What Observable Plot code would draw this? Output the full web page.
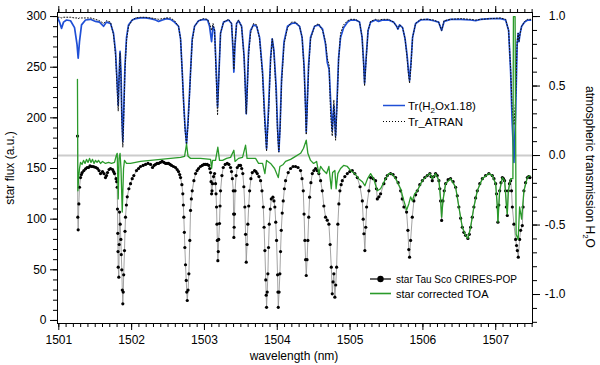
<!DOCTYPE html>
<html><head><meta charset="utf-8">
<script src="https://cdn.jsdelivr.net/npm/d3@7"></script>
<script src="https://cdn.jsdelivr.net/npm/@observablehq/plot@0.6"></script>
<style>body{margin:0;background:#fff;font-family:"Liberation Sans",Arial,sans-serif}</style>
</head><body><div id="chart"></div>
<script>
// ---- star Tau Sco CRIRES-POP (left axis, a.u.) ----
const starWl = [
1501.257,1501.261,1501.266,1501.275,1501.284,1501.298,1501.310,1501.321,1501.344,1501.367,
1501.388,1501.408,1501.428,1501.449,1501.470,1501.490,1501.511,1501.532,1501.552,1501.573,
1501.600,1501.620,1501.641,1501.655,1501.669,1501.690,1501.710,1501.738,1501.752,1501.765,
1501.786,1501.795,1501.802,1501.806,1501.810,1501.813,1501.816,1501.824,1501.829,1501.834,
1501.843,1501.852,1501.858,1501.865,1501.872,1501.879,1501.885,1501.891,1501.902,1501.909,
1501.916,1501.928,1501.940,1501.962,1501.985,1502.008,1502.030,1502.067,1502.095,1502.122,
1502.157,1502.191,1502.225,1502.260,1502.287,1502.308,1502.328,1502.350,1502.370,1502.395,
1502.420,1502.443,1502.466,1502.486,1502.507,1502.528,1502.548,1502.575,1502.603,1502.625,
1502.644,1502.660,1502.672,1502.690,1502.703,1502.710,1502.717,1502.724,1502.731,1502.740,
1502.750,1502.757,1502.764,1502.775,1502.786,1502.799,1502.809,1502.820,1502.832,1502.855,
1502.878,1502.899,1502.919,1502.945,1502.970,1502.993,1503.015,1503.038,1503.060,1503.072,
1503.084,1503.091,1503.098,1503.104,1503.111,1503.125,1503.139,1503.152,1503.159,1503.166,
1503.172,1503.177,1503.184,1503.190,1503.196,1503.207,1503.214,1503.221,1503.240,1503.258,
1503.285,1503.313,1503.336,1503.359,1503.372,1503.383,1503.396,1503.400,1503.404,1503.408,
1503.413,1503.420,1503.435,1503.451,1503.474,1503.496,1503.512,1503.527,1503.541,1503.555,
1503.565,1503.574,1503.585,1503.596,1503.608,1503.620,1503.638,1503.657,1503.688,1503.707,
1503.725,1503.748,1503.771,1503.790,1503.808,1503.819,1503.830,1503.842,1503.848,1503.853,
1503.862,1503.871,1503.880,1503.890,1503.904,1503.918,1503.940,1503.955,1503.967,1503.979,
1503.990,1504.004,1504.009,1504.014,1504.025,1504.036,1504.045,1504.055,1504.068,1504.082,
1504.098,1504.114,1504.150,1504.183,1504.217,1504.251,1504.285,1504.320,1504.340,1504.357,
1504.368,1504.379,1504.389,1504.398,1504.409,1504.420,1504.432,1504.444,1504.462,1504.481,
1504.503,1504.526,1504.548,1504.571,1504.595,1504.618,1504.640,1504.663,1504.686,1504.709,
1504.726,1504.742,1504.755,1504.766,1504.777,1504.791,1504.803,1504.815,1504.832,1504.846,
1504.860,1504.877,1504.893,1504.928,1504.962,1504.996,1505.030,1505.065,1505.099,1505.137,
1505.168,1505.180,1505.190,1505.203,1505.215,1505.227,1505.258,1505.282,1505.316,1505.350,
1505.362,1505.374,1505.396,1505.419,1505.464,1505.488,1505.511,1505.556,1505.590,1505.625,
1505.660,1505.694,1505.716,1505.739,1505.776,1505.794,1505.806,1505.817,1505.831,1505.854,
1505.876,1505.900,1505.923,1505.957,1505.992,1506.026,1506.060,1506.096,1506.112,1506.129,
1506.150,1506.174,1506.197,1506.220,1506.232,1506.243,1506.257,1506.275,1506.293,1506.312,
1506.346,1506.380,1506.415,1506.449,1506.472,1506.494,1506.518,1506.541,1506.563,1506.586,
1506.618,1506.637,1506.655,1506.678,1506.700,1506.724,1506.747,1506.781,1506.816,1506.861,
1506.906,1506.953,1506.976,1506.999,1507.011,1507.022,1507.030,1507.042,1507.054,1507.072,
1507.091,1507.106,1507.122,1507.135,1507.146,1507.159,1507.173,1507.189,1507.205,1507.217,
1507.228,1507.250,1507.273,1507.286,1507.297,1507.310,1507.328,1507.342,1507.365,1507.376,
1507.387,1507.410,1507.434,1507.452,1507.470];
const starFlux = [
182,102,89.5,115,131.5,141,144,146,148,149.7,
151,151,152.5,152,152,151.5,151,150,148,145,
147,145,141,143,146,149,150,149,147,145,
140,137,131.5,110,86,68,52.6,42.7,75,107,
95,80,65,50,30,16.4,28,45,69,88,
102,114,122,130,135,140,143,148,150,152,
153,154,155,154,151,153,154,155,155,156,
157,156,155,155,155,154,153,152,151,149,
147,144,141,134,125,114,102,87,72,55,
39.5,28,19.7,30,46,79,108.6,120,128,138,
145,148,150,152,153,154,154,154,153,150,
146,137,125,128,135,142,145,135,125,112,
95,79,59,68,80,95.7,113,128,143,151,
154,155,154,151,147,140,128,105,82,92,
105,128,143,151,153,153,150,145,132,112,
85,57.5,75,95,113,128,140,146,148,147,
145,142,138,128,112,92,69,40,25,13,
28,46,72,95,110,120,121.7,118,112,97,
79,45,28,13,28,46,68,89,106,118,
130,138,146,150,152,152,151,148,140,128,
105,79,60,44.4,60,79,102,121.7,136,145,
148,150,148,145,138,128,113,102,99,95,
75,52.6,26.3,38,46,23,35,52.6,95,115,
128,134,138,142,145,147,148,145,141,132,
118,100,85.6,69,92,112,128,141,140,138,
130,120,122,125,135,140,143,145,144,141,
136,128,120,112,107,89,70,62.5,79,102,
118,124,128,134,138,141,143,145,142,138,
142,145,143,138,130,118,98.7,118,128,135,
139,140,137,131.5,123,112,101,92,87,84,
81,85,92,102,112,121,128,135,140,143,
145,143,140,135,125,112,97,114,128,136,
141,140,138,128,112,103.6,128,135,138,128,
112,95,80,74,69,62.5,80,89,93.7,112,
128,136,141,142,141];

// ---- star corrected TOA (left axis, a.u.) ----
const toaWl = [
1501.256,1501.262,1501.271,1501.284,1501.298,1501.319,1501.339,1501.360,1501.380,1501.401,
1501.422,1501.442,1501.463,1501.484,1501.504,1501.525,1501.545,1501.573,1501.600,1501.641,
1501.683,1501.724,1501.765,1501.786,1501.802,1501.816,1501.827,1501.841,1501.854,1501.871,
1501.889,1501.902,1501.930,1501.985,1502.122,1502.260,1502.397,1502.534,1502.672,1502.727,
1502.754,1502.775,1502.809,1502.946,1503.084,1503.098,1503.111,1503.152,1503.184,1503.207,
1503.249,1503.304,1503.359,1503.404,1503.420,1503.468,1503.523,1503.565,1503.585,1503.633,
1503.702,1503.743,1503.798,1503.830,1503.853,1503.908,1503.963,1504.014,1504.036,1504.082,
1504.114,1504.183,1504.251,1504.320,1504.361,1504.398,1504.420,1504.457,1504.499,1504.540,
1504.571,1504.595,1504.636,1504.677,1504.709,1504.742,1504.760,1504.791,1504.808,1504.832,
1504.869,1504.911,1504.962,1505.007,1505.076,1505.117,1505.168,1505.203,1505.240,1505.282,
1505.323,1505.374,1505.419,1505.474,1505.529,1505.570,1505.625,1505.694,1505.739,1505.776,
1505.806,1505.831,1505.854,1505.886,1505.923,1505.992,1506.060,1506.096,1506.129,1506.174,
1506.220,1506.243,1506.257,1506.275,1506.312,1506.380,1506.449,1506.494,1506.541,1506.586,
1506.618,1506.655,1506.700,1506.747,1506.816,1506.906,1506.953,1506.999,1507.022,1507.030,
1507.054,1507.091,1507.122,1507.146,1507.159,1507.173,1507.205,1507.236,1507.243,1507.266,
1507.280,1507.308,1507.328,1507.356,1507.387,1507.434,1507.470];
const toaFlux = [
238,128,140,150,156,154,158,155,159,156,
160,156,159,155,158,156,158,155,157,155,
156,155,156,162,165,120,160,165,150,107,
150,158,155,155,157,158,159,160,161,162,
174,162,160,160,159,150,158,158,171,158,
158,160,161,168,157,160,161,173,160,160,
160,155,155,145,158,155,150,141,152,154,
157,159,162,165,170,178,165,158,155,157,
145,152,148,145,152,130,146,148,130,145,
150,153,152,148,144,140,137,133,140,145,
140,128,130,138,145,145,140,130,118,109,
115,122,118,125,128,138,143,145,140,145,
138,120,102,118,135,140,131.5,112,92,84,
81,92,112,128,140,145,143,135,112,97,
128,141,138,115,105,128,140,140,300,300,
85,80,112,100,128,141,143];

// ---- atmospheric transmission (right axis) ----
const trWl = [
1500.989,1501.010,1501.037,1501.065,1501.106,1501.161,1501.216,1501.250,1501.266,1501.284,
1501.312,1501.367,1501.435,1501.504,1501.559,1501.614,1501.655,1501.710,1501.751,1501.779,
1501.799,1501.816,1501.827,1501.841,1501.854,1501.865,1501.879,1501.893,1501.909,1501.930,
1501.957,1502.008,1502.054,1502.122,1502.191,1502.260,1502.328,1502.370,1502.424,1502.479,
1502.534,1502.589,1502.644,1502.672,1502.695,1502.713,1502.734,1502.754,1502.775,1502.795,
1502.809,1502.832,1502.864,1502.919,1502.988,1503.043,1503.070,1503.098,1503.118,1503.139,
1503.159,1503.180,1503.201,1503.221,1503.262,1503.331,1503.372,1503.393,1503.404,1503.418,
1503.441,1503.468,1503.510,1503.544,1503.565,1503.574,1503.585,1503.606,1503.633,1503.674,
1503.716,1503.757,1503.798,1503.826,1503.853,1503.881,1503.908,1503.931,1503.953,1503.984,
1504.004,1504.022,1504.038,1504.059,1504.093,1504.141,1504.196,1504.251,1504.306,1504.341,
1504.368,1504.389,1504.398,1504.409,1504.430,1504.457,1504.512,1504.567,1504.622,1504.663,
1504.687,1504.712,1504.732,1504.755,1504.777,1504.801,1504.821,1504.842,1504.869,1504.911,
1504.966,1505.007,1505.076,1505.130,1505.165,1505.185,1505.199,1505.220,1505.247,1505.282,
1505.350,1505.391,1505.446,1505.529,1505.597,1505.639,1505.657,1505.680,1505.721,1505.755,
1505.783,1505.803,1505.817,1505.838,1505.858,1505.900,1505.968,1506.065,1506.147,1506.216,
1506.257,1506.291,1506.380,1506.518,1506.655,1506.724,1506.793,1506.930,1507.067,1507.136,
1507.177,1507.205,1507.225,1507.250,1507.273,1507.294,1507.308,1507.319,1507.335,1507.356,
1507.397,1507.438,1507.479];
const trH2O = [
.985,.96,.915,.96,.975,.97,.92,.80,.70,.82,
.94,.975,.98,.965,.96,.93,.96,.95,.88,.75,
.55,.36,.55,.75,.60,.30,.10,.35,.65,.85,
.94,.975,.985,.99,.99,.985,.975,.965,.975,.985,
.98,.96,.93,.84,.60,.40,.20,.085,.25,.45,
.60,.84,.93,.97,.98,.975,.93,.82,.93,.90,
.65,.35,.62,.88,.96,.975,.95,.75,.60,.78,
.95,.97,.93,.72,.45,.30,.45,.75,.90,.94,
.93,.85,.60,.30,.05,.35,.70,.84,.76,.50,
.20,.03,.20,.55,.82,.93,.95,.955,.93,.85,
.65,.35,.17,.33,.65,.85,.93,.94,.91,.80,
.67,.62,.40,.18,.36,.14,.40,.70,.85,.92,
.96,.975,.975,.96,.85,.68,.52,.70,.90,.96,
.975,.965,.975,.975,.96,.93,.91,.94,.92,.84,
.72,.60,.54,.68,.85,.95,.975,.98,.97,.96,
.90,.965,.98,.98,.975,.97,.98,.985,.985,.975,
.90,.60,.25,-.05,.30,.80,.88,.82,.88,.93,
.96,.975,.975];
const trAtran = [
.995,.995,.99,.995,.995,.995,.99,.99,.985,.99,
.99,.99,.99,.98,.97,.95,.97,.96,.87,.72,
.50,.32,.55,.74,.55,.25,.06,.30,.62,.83,
.93,.975,.99,.995,.995,.99,.985,.98,.985,.99,
.99,.97,.93,.84,.60,.38,.18,.08,.22,.43,
.60,.82,.93,.97,.985,.98,.95,.90,.95,.90,
.60,.29,.60,.88,.96,.98,.95,.78,.62,.80,
.95,.975,.93,.70,.40,.30,.42,.72,.88,.95,
.94,.84,.58,.25,.03,.30,.68,.84,.75,.45,
.15,.024,.18,.52,.80,.92,.96,.96,.93,.85,
.62,.30,.15,.30,.62,.84,.93,.95,.90,.82,
.70,.65,.30,.14,.40,.11,.35,.68,.88,.94,
.97,.98,.98,.96,.85,.65,.50,.68,.90,.965,
.98,.975,.98,.98,.96,.93,.91,.94,.92,.84,
.70,.58,.52,.66,.85,.95,.98,.98,.975,.96,
.90,.97,.98,.985,.98,.975,.98,.985,.99,.98,
.90,.62,.35,.22,.40,.82,.88,.82,.88,.93,
.965,.98,.98];

// ---- axes ----
const xTicks = [1501, 1502, 1503, 1504, 1505, 1506, 1507];
const leftTicks = [0, 50, 100, 150, 200, 250, 300];
const rightTicks = [-1.0, -0.5, 0.0, 0.5, 1.0];
const rightZero = 162.8;   // left-axis value where transmission = 0
const rightUnit = 137.2;   // left-axis units per unit of transmission

const toLeft = r => rightZero + rightUnit * r;
const star = starWl.map((w, i) => ({w, f: starFlux[i]}));
const toa = toaWl.map((w, i) => ({w, f: toaFlux[i]}));
const tr = trWl.map((w, i) => ({w, h: toLeft(trH2O[i]), a: toLeft(trAtran[i])}));

const minorX = d3.range(15010, 15076).map(v => v / 10);
const minorLeft = d3.range(0, 301, 10);
const minorRight = d3.range(-12, 11).map(v => toLeft(v / 10));
const blank = () => "";

const plot = Plot.plot({
  width: 600, height: 365,
  marginLeft: 57, marginRight: 68, marginTop: 12, marginBottom: 42,
  style: {fontFamily: "'Liberation Sans', Arial, sans-serif", fontSize: "12px", color: "black", background: "white", overflow: "visible"},
  x: {domain: [1500.982, 1507.505]},
  y: {domain: [-3, 304]},
  marks: [
    Plot.ruleY([rightZero], {stroke: "#cccccc", strokeWidth: 2}),
    Plot.line(tr, {x: "w", y: "h", stroke: "#1f4fd6", strokeWidth: 1.7}),
    Plot.line(tr, {x: "w", y: "a", stroke: "#111", strokeWidth: 1, strokeDasharray: "1,2"}),
    Plot.line(star, {x: "w", y: "f", stroke: "#999", strokeWidth: 0.9}),
    Plot.dot(star, {x: "w", y: "f", r: 1.6, fill: "black", stroke: "none"}),
    Plot.line(toa, {x: "w", y: "f", stroke: "#2a9a2a", strokeWidth: 1.3}),
    Plot.axisX(xTicks, {anchor: "bottom", tickSize: 7, tickPadding: 5, tickFormat: d => String(d), label: null}),
    Plot.axisX(minorX, {anchor: "bottom", tickSize: 4, tickFormat: blank, label: null}),
    Plot.axisX(xTicks, {anchor: "top", tickSize: 7, tickFormat: blank, label: null}),
    Plot.axisX(minorX, {anchor: "top", tickSize: 4, tickFormat: blank, label: null}),
    Plot.axisY(leftTicks, {anchor: "left", tickSize: 7, tickPadding: 4, tickFormat: d => String(d), label: null}),
    Plot.axisY(minorLeft, {anchor: "left", tickSize: 4, tickFormat: blank, label: null}),
    Plot.axisY(rightTicks.map(toLeft), {anchor: "right", tickSize: 7, tickPadding: 26, textAnchor: "end",
      tickFormat: v => ((v - rightZero) / rightUnit).toFixed(1).replace("\u2212", "-"), label: null}),
    Plot.axisY(minorRight, {anchor: "right", tickSize: 4, tickFormat: blank, label: null}),
    Plot.frame({stroke: "black"})
  ]
});
document.getElementById("chart").appendChild(plot);

// ---- titles and legends ----
const svg = d3.select(plot);
const ff = "'Liberation Sans', Arial, sans-serif";
svg.append("text").attr("transform", "translate(14,168) rotate(-90)").attr("text-anchor", "middle")
  .attr("font-family", ff).attr("font-size", 12).text("star flux (a.u.)");
svg.append("text").attr("x", 294).attr("y", 360).attr("text-anchor", "middle")
  .attr("font-family", ff).attr("font-size", 12).text("wavelength (nm)");
const rt = svg.append("text").attr("transform", "translate(586,167) rotate(90)").attr("text-anchor", "middle")
  .attr("font-family", ff).attr("font-size", 12);
rt.append("tspan").text("atmospheric transmission H");
rt.append("tspan").attr("font-size", 8).attr("dy", 3).text("2");
rt.append("tspan").attr("dy", -3).text("O");

const lg = svg.append("g").attr("font-family", ff).attr("font-size", 11).attr("text-anchor", "start");
lg.append("line").attr("x1", 383).attr("x2", 405).attr("y1", 105.5).attr("y2", 105.5)
  .attr("stroke", "#1f4fd6").attr("stroke-width", 1.5);
const t1 = lg.append("text").attr("x", 408).attr("y", 109.5).attr("text-anchor", "start").attr("font-size", 11.5);
t1.append("tspan").text("Tr(H");
t1.append("tspan").attr("font-size", 8).attr("dy", 3).text("2");
t1.append("tspan").attr("dy", -3).text("Ox1.18)");
lg.append("line").attr("x1", 383).attr("x2", 405).attr("y1", 121.5).attr("y2", 121.5)
  .attr("stroke", "black").attr("stroke-width", 1).attr("stroke-dasharray", "1,2");
lg.append("text").attr("x", 408).attr("y", 125.5).attr("text-anchor", "start").attr("font-size", 11.5).text("Tr_ATRAN");

lg.append("line").attr("x1", 370).attr("x2", 391).attr("y1", 279).attr("y2", 279)
  .attr("stroke", "black").attr("stroke-width", 1.2);
lg.append("circle").attr("cx", 380.5).attr("cy", 279).attr("r", 3.2).attr("fill", "black");
lg.append("text").attr("x", 396).attr("y", 283).attr("text-anchor", "start")
  .attr("textLength", 121).attr("lengthAdjust", "spacingAndGlyphs").text("star Tau Sco CRIRES-POP");
lg.append("line").attr("x1", 370).attr("x2", 391).attr("y1", 293.5).attr("y2", 293.5)
  .attr("stroke", "#2a9a2a").attr("stroke-width", 1.6);
lg.append("text").attr("x", 396).attr("y", 297.5).attr("text-anchor", "start").text("star corrected TOA");
</script>
</body></html>
